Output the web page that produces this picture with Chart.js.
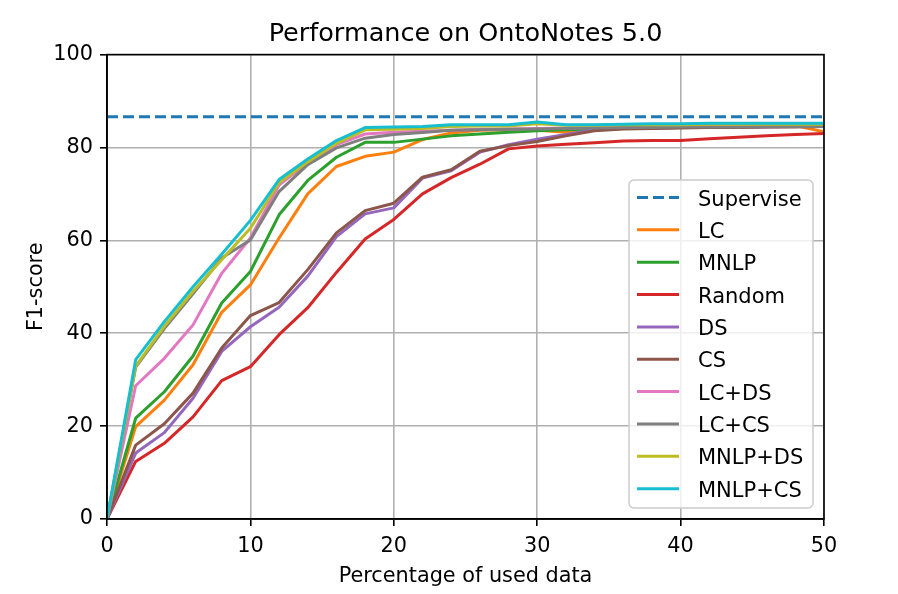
<!DOCTYPE html>
<html>
<head>
<meta charset="utf-8">
<script src="https://cdn.jsdelivr.net/npm/chart.js@4/dist/chart.umd.min.js"></script>
<style>
  html, body { margin: 0; padding: 0; background: #fff; }
  #wrap { width: 898px; height: 594px; }
</style>
</head>
<body>
<div id="wrap"><canvas id="chart" width="898" height="594"></canvas></div>
<script>
// percentage of used data (x axis)
const usedPct = [0, 2, 4, 6, 8, 10, 12, 14, 16, 18, 20, 22, 24, 26, 28, 30, 32, 34, 36, 38, 40, 42, 44, 46, 48, 50];
const superviseScore = 86.6;

const lc       = [0, 19.9, 25.6, 33.2, 44.5, 50.4, 60.5, 70.0, 75.9, 78.1, 79.0, 81.7, 83.1, 83.7, 83.8, 83.7, 83.3, 84.3, 84.4, 84.5, 84.6, 84.6, 84.7, 84.7, 84.7, 83.4];
const mnlp     = [0, 21.7, 27.4, 35.1, 46.5, 53.3, 65.5, 72.9, 77.9, 81.1, 81.1, 81.8, 82.5, 82.9, 83.3, 83.6, 83.8, 84.0, 84.1, 84.2, 84.3, 84.4, 84.5, 84.5, 84.6, 84.6];
const random   = [0, 12.4, 16.3, 22.0, 29.8, 32.8, 39.7, 45.5, 53.1, 60.3, 64.5, 70.0, 73.5, 76.4, 79.7, 80.3, 80.7, 81.0, 81.4, 81.5, 81.5, 81.9, 82.2, 82.5, 82.8, 83.0];
const ds       = [0, 14.2, 18.6, 26.0, 36.1, 41.4, 45.6, 52.3, 60.8, 65.7, 67.0, 73.4, 75.0, 79.0, 80.6, 81.8, 82.8, 83.8, 84.2, 84.2, 84.3, 84.3, 84.4, 84.4, 84.5, 84.5];
const cs       = [0, 15.9, 20.5, 27.1, 36.8, 43.8, 46.6, 53.7, 61.6, 66.4, 68.0, 73.6, 75.2, 79.2, 80.4, 81.3, 82.5, 83.6, 84.0, 84.1, 84.2, 84.3, 84.3, 84.4, 84.4, 84.5];
const lcDs     = [0, 28.7, 34.6, 41.8, 52.9, 60.5, 71.9, 76.7, 80.6, 82.9, 83.3, 83.5, 83.7, 83.9, 84.0, 84.1, 84.2, 84.3, 84.6, 84.6, 84.6, 84.6, 84.6, 84.7, 84.7, 84.7];
const lcCs     = [0, 32.7, 41.0, 48.5, 56.2, 60.1, 70.5, 76.3, 79.9, 82.0, 82.8, 83.2, 83.7, 83.8, 83.9, 84.0, 84.1, 84.2, 84.3, 84.3, 84.4, 84.4, 84.4, 84.5, 84.5, 84.5];
const mnlpDs   = [0, 32.9, 41.5, 49.0, 55.8, 62.6, 72.4, 76.9, 80.9, 83.8, 83.9, 84.1, 84.5, 84.6, 84.6, 85.1, 84.8, 84.8, 84.9, 84.9, 84.9, 85.0, 85.0, 85.0, 85.0, 85.0];
const mnlpCs   = [0, 34.3, 42.5, 50.0, 57.0, 64.3, 73.1, 77.5, 81.5, 84.3, 84.4, 84.5, 84.9, 84.9, 84.9, 85.5, 84.9, 84.9, 85.0, 85.1, 85.1, 85.2, 85.2, 85.2, 85.2, 85.2];

const xTicks = [0, 10, 20, 30, 40, 50];
const yTicks = [0, 20, 40, 60, 80, 100];

const FONT = "'DejaVu Sans', sans-serif";
Chart.defaults.font.family = FONT;
Chart.defaults.color = '#000';

const series = [
  ['LC', lc, '#ff7f0e'],
  ['MNLP', mnlp, '#2ca02c'],
  ['Random', random, '#d62728'],
  ['DS', ds, '#9467bd'],
  ['CS', cs, '#8c564b'],
  ['LC+DS', lcDs, '#e377c2'],
  ['LC+CS', lcCs, '#7f7f7f'],
  ['MNLP+DS', mnlpDs, '#bcbd22'],
  ['MNLP+CS', mnlpCs, '#17becf']
];

const datasets = [{
  label: 'Supervise',
  data: [{x: usedPct[0], y: superviseScore}, {x: usedPct[usedPct.length - 1], y: superviseScore}],
  borderColor: '#1f77b4',
  borderDash: [11, 5],
  borderWidth: 3
}];
series.forEach(([name, vals, color]) => {
  datasets.push({
    label: name,
    data: vals.map((v, i) => ({x: usedPct[i], y: v})),
    borderColor: color,
    borderWidth: 3
  });
});
datasets.forEach((d, i) => {
  d.order = datasets.length - i;   // later series on top, like matplotlib
  d.fill = false;
  d.pointRadius = 0;
  d.tension = 0;
  d.borderJoinStyle = 'round';
  d.backgroundColor = d.borderColor;
});

// spines on all four sides + legend box inside the plot
const framePlugin = {
  id: 'frame',
  afterDraw(chart) {
    const {ctx, chartArea: a} = chart;
    ctx.save();
    ctx.strokeStyle = '#000';
    ctx.lineWidth = 1.6;
    ctx.strokeRect(a.left, a.top, a.right - a.left, a.bottom - a.top);

    // legend
    const bx = 629, by = 180, bw = 184, bh = 328, r = 5;
    ctx.beginPath();
    ctx.moveTo(bx + r, by);
    ctx.arcTo(bx + bw, by, bx + bw, by + bh, r);
    ctx.arcTo(bx + bw, by + bh, bx, by + bh, r);
    ctx.arcTo(bx, by + bh, bx, by, r);
    ctx.arcTo(bx, by, bx + bw, by, r);
    ctx.closePath();
    ctx.fillStyle = 'rgba(255,255,255,0.8)';
    ctx.fill();
    ctx.strokeStyle = '#cccccc';
    ctx.lineWidth = 1.5;
    ctx.stroke();

    ctx.font = '21px ' + FONT;
    ctx.textAlign = 'left';
    ctx.textBaseline = 'alphabetic';
    chart.data.datasets.forEach((d, i) => {
      const y = 197.5 + i * 32.35;
      ctx.beginPath();
      ctx.setLineDash(d.borderDash || []);
      ctx.strokeStyle = d.borderColor;
      ctx.lineWidth = 3;
      ctx.moveTo(637, y);
      ctx.lineTo(679, y);
      ctx.stroke();
      ctx.setLineDash([]);
      ctx.fillStyle = '#000';
      ctx.fillText(d.label, 698, y + 8);
    });
    ctx.restore();
  }
};

new Chart(document.getElementById('chart'), {
  type: 'line',
  data: { datasets },
  options: {
    responsive: false,
    animation: false,
    layout: { padding: { left: 0, right: 74, top: 0, bottom: 0 } },
    plugins: {
      legend: { display: false },
      tooltip: { enabled: false },
      title: {
        display: true,
        text: 'Performance on OntoNotes 5.0',
        fullSize: false,
        color: '#000',
        font: { size: 25.5, weight: 'normal' },
        padding: { top: 19, bottom: 5 }
      }
    },
    scales: {
      x: {
        type: 'linear',
        min: 0,
        max: 50,
        afterBuildTicks: s => { s.ticks = xTicks.map(v => ({value: v})); },
        afterFit: s => { s.height = 75; },
        ticks: { color: '#000', font: { size: 20.8 }, padding: 8, maxRotation: 0 },
        grid: { color: '#b0b0b0', lineWidth: 1.6, tickLength: 7, tickColor: '#000', tickWidth: 1.6 },
        border: { display: true, color: '#000', width: 1.6 },
        title: { display: true, text: 'Percentage of used data', color: '#000', font: { size: 20.8 }, padding: { top: 0, bottom: 5 } }
      },
      y: {
        min: 0,
        max: 100,
        afterBuildTicks: s => { s.ticks = yTicks.map(v => ({value: v})); },
        afterFit: s => { s.width = 107; },
        ticks: { color: '#000', font: { size: 20.8 }, padding: 7 },
        grid: { color: '#b0b0b0', lineWidth: 1.6, tickLength: 7, tickColor: '#000', tickWidth: 1.6 },
        border: { display: true, color: '#000', width: 1.6 },
        title: { display: true, text: 'F1-score', color: '#000', font: { size: 20.8 }, padding: { top: 24, bottom: 0 } }
      }
    }
  },
  plugins: [framePlugin]
});
</script>
</body>
</html>
